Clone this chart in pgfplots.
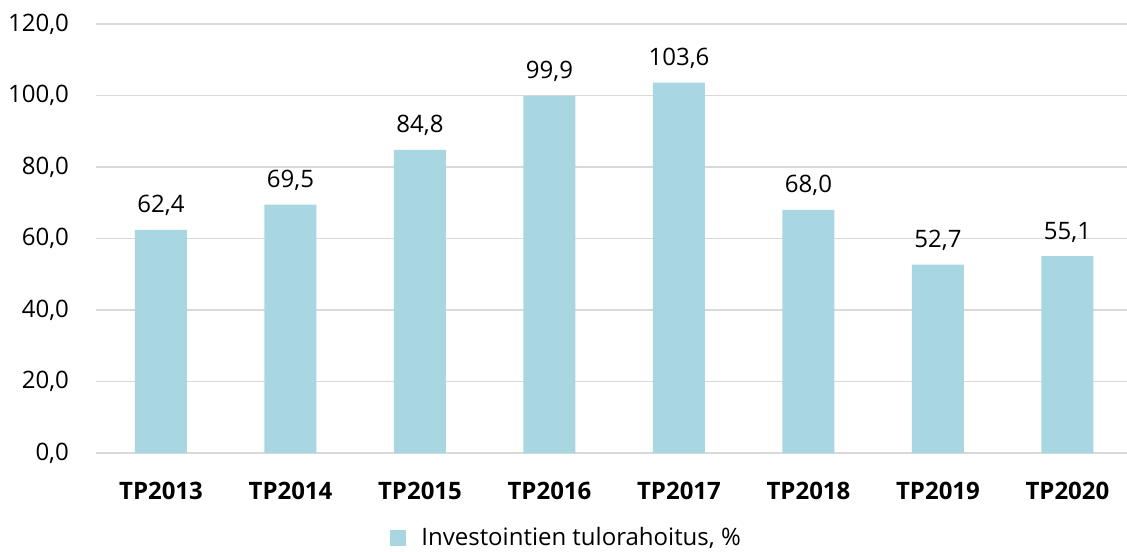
\documentclass[border=0pt]{standalone}
\usepackage{fontspec}
\setmainfont{Open Sans}
\usepackage{pgfplots}
\pgfplotsset{compat=1.18}
\definecolor{barc}{RGB}{168,215,226}
\definecolor{gridc}{RGB}{217,217,217}
\begin{document}
\fontsize{12pt}{14pt}\selectfont
\begin{tikzpicture}
\begin{axis}[
  at={(0,0)}, anchor=south west,
  scale only axis,
  width=515.375pt, height=214.5pt,
  xmin=-0.5, xmax=7.46,
  ymin=0, ymax=120,
  ytick={0,20,...,120},
  xtick={0,...,7},
  xticklabels={TP2013,TP2014,TP2015,TP2016,TP2017,TP2018,TP2019,TP2020},
  axis line style={draw=none},
  major tick length=0pt,
  ymajorgrids,
  grid style={gridc, line width=0.75pt},
  /pgf/number format/.cd, use comma, fixed, fixed zerofill, precision=1, assume math mode=true,
  /pgfplots/.cd,
  yticklabel style={inner sep=0pt},
  yticklabel shift=13.5pt,
  xticklabel style={inner sep=0pt, font=\bfseries},
  xticklabel shift=14.5pt,
  legend style={at={(0.4553,-0.198)}, anchor=center, draw=none, fill=none,
    legend columns=-1, inner sep=0pt, nodes={inner sep=0pt}, column sep=7.5pt},
  legend image code/.code={\fill[#1] (0pt,-4pt) rectangle (8pt,4pt);},
  clip=false,
]
\addplot[ybar, bar width=26pt, fill=barc, draw=none,
  nodes near coords,
  every node near coord/.append style={anchor=base, yshift=8.5pt, inner sep=0pt, text=black},
] coordinates {(0,62.4) (1,69.5) (2,84.8) (3,99.9) (4,103.6) (5,68.0) (6,52.7) (7,55.1)};
\addlegendentry{Investointien tulorahoitus, \%}
\end{axis}
\pgfresetboundingbox
\path (-48.125pt,-49pt) rectangle (515.375pt,226.5pt);
\end{tikzpicture}
\end{document}
